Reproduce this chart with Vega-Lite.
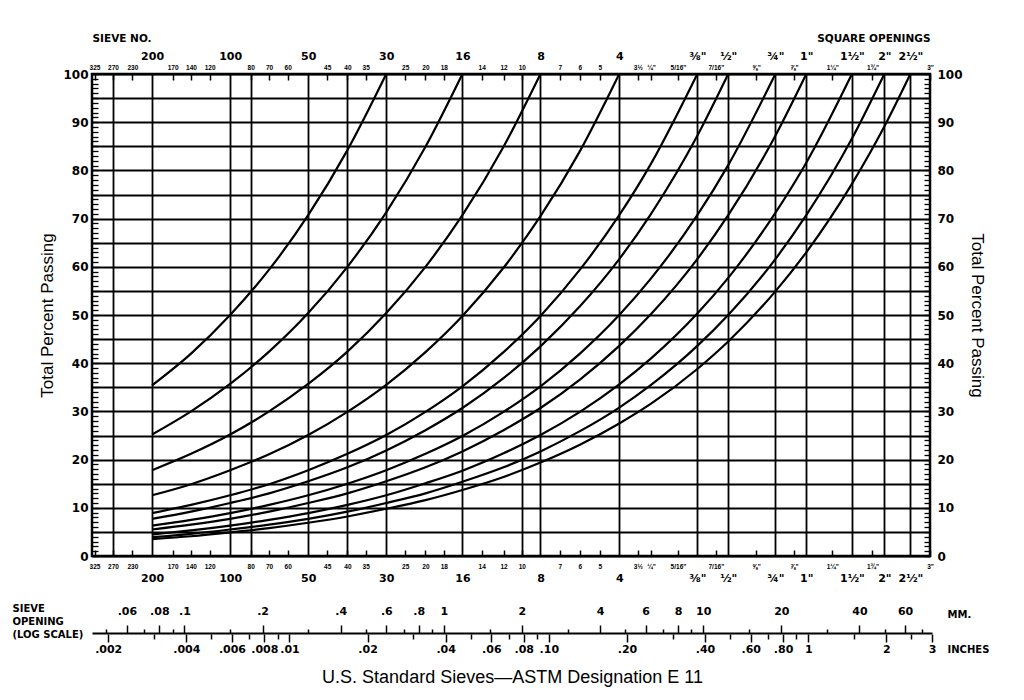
{
  "$schema": "https://vega.github.io/schema/vega-lite/v6.json",
  "padding": {"left": 12, "top": 31, "right": 5, "bottom": 5},
  "background": "white",
  "spacing": 18,
  "config": {
    "font": "Liberation Sans",
    "axis": {"labelColor": "black", "titleColor": "black", "tickColor": "black", "domainColor": "black", "gridColor": "black", "gridOpacity": 1, "labelFlush": false, "labelOverlap": false},
    "view": {"stroke": "black", "strokeWidth": 2.5}
  },
  "datasets": {
    "curves": [
      {"max": "No. 30", "d": 0.075, "p": 35.4}, {"max": "No. 30", "d": 0.106, "p": 42.0}, {"max": "No. 30", "d": 0.15, "p": 50.0}, {"max": "No. 30", "d": 0.212, "p": 59.4}, {"max": "No. 30", "d": 0.3, "p": 70.7}, {"max": "No. 30", "d": 0.425, "p": 84.2}, {"max": "No. 30", "d": 0.6, "p": 100},
      {"max": "No. 16", "d": 0.075, "p": 25.2}, {"max": "No. 16", "d": 0.106, "p": 30.0}, {"max": "No. 16", "d": 0.15, "p": 35.7}, {"max": "No. 16", "d": 0.212, "p": 42.4}, {"max": "No. 16", "d": 0.3, "p": 50.4}, {"max": "No. 16", "d": 0.425, "p": 60.0}, {"max": "No. 16", "d": 0.6, "p": 71.3}, {"max": "No. 16", "d": 0.85, "p": 84.9}, {"max": "No. 16", "d": 1.18, "p": 100},
      {"max": "No. 8", "d": 0.075, "p": 17.8}, {"max": "No. 8", "d": 0.106, "p": 21.2}, {"max": "No. 8", "d": 0.15, "p": 25.2}, {"max": "No. 8", "d": 0.212, "p": 30.0}, {"max": "No. 8", "d": 0.3, "p": 35.7}, {"max": "No. 8", "d": 0.425, "p": 42.4}, {"max": "No. 8", "d": 0.6, "p": 50.4}, {"max": "No. 8", "d": 0.85, "p": 60.0}, {"max": "No. 8", "d": 1.18, "p": 70.7}, {"max": "No. 8", "d": 1.7, "p": 84.9}, {"max": "No. 8", "d": 2.36, "p": 100},
      {"max": "No. 4", "d": 0.075, "p": 12.6}, {"max": "No. 4", "d": 0.106, "p": 14.9}, {"max": "No. 4", "d": 0.15, "p": 17.8}, {"max": "No. 4", "d": 0.212, "p": 21.1}, {"max": "No. 4", "d": 0.3, "p": 25.1}, {"max": "No. 4", "d": 0.425, "p": 29.9}, {"max": "No. 4", "d": 0.6, "p": 35.5}, {"max": "No. 4", "d": 0.85, "p": 42.3}, {"max": "No. 4", "d": 1.18, "p": 49.8}, {"max": "No. 4", "d": 1.7, "p": 59.8}, {"max": "No. 4", "d": 2.36, "p": 70.5}, {"max": "No. 4", "d": 3.35, "p": 84.0}, {"max": "No. 4", "d": 4.75, "p": 100},
      {"max": "3/8 in", "d": 0.075, "p": 8.9}, {"max": "3/8 in", "d": 0.106, "p": 10.6}, {"max": "3/8 in", "d": 0.15, "p": 12.6}, {"max": "3/8 in", "d": 0.212, "p": 14.9}, {"max": "3/8 in", "d": 0.3, "p": 17.8}, {"max": "3/8 in", "d": 0.425, "p": 21.2}, {"max": "3/8 in", "d": 0.6, "p": 25.1}, {"max": "3/8 in", "d": 0.85, "p": 29.9}, {"max": "3/8 in", "d": 1.18, "p": 35.2}, {"max": "3/8 in", "d": 1.7, "p": 42.3}, {"max": "3/8 in", "d": 2.36, "p": 49.8}, {"max": "3/8 in", "d": 3.35, "p": 59.4}, {"max": "3/8 in", "d": 4.75, "p": 70.7}, {"max": "3/8 in", "d": 6.3, "p": 81.4}, {"max": "3/8 in", "d": 9.5, "p": 100},
      {"max": "1/2 in", "d": 0.075, "p": 7.7}, {"max": "1/2 in", "d": 0.106, "p": 9.2}, {"max": "1/2 in", "d": 0.15, "p": 11.0}, {"max": "1/2 in", "d": 0.212, "p": 13.0}, {"max": "1/2 in", "d": 0.3, "p": 15.5}, {"max": "1/2 in", "d": 0.425, "p": 18.4}, {"max": "1/2 in", "d": 0.6, "p": 21.9}, {"max": "1/2 in", "d": 0.85, "p": 26.1}, {"max": "1/2 in", "d": 1.18, "p": 30.7}, {"max": "1/2 in", "d": 1.7, "p": 36.9}, {"max": "1/2 in", "d": 2.36, "p": 43.5}, {"max": "1/2 in", "d": 3.35, "p": 51.8}, {"max": "1/2 in", "d": 4.75, "p": 61.6}, {"max": "1/2 in", "d": 6.3, "p": 71.0}, {"max": "1/2 in", "d": 9.5, "p": 87.2}, {"max": "1/2 in", "d": 12.5, "p": 100},
      {"max": "3/4 in", "d": 0.075, "p": 6.3}, {"max": "3/4 in", "d": 0.106, "p": 7.5}, {"max": "3/4 in", "d": 0.15, "p": 8.9}, {"max": "3/4 in", "d": 0.212, "p": 10.6}, {"max": "3/4 in", "d": 0.3, "p": 12.6}, {"max": "3/4 in", "d": 0.425, "p": 15.0}, {"max": "3/4 in", "d": 0.6, "p": 17.8}, {"max": "3/4 in", "d": 0.85, "p": 21.2}, {"max": "3/4 in", "d": 1.18, "p": 24.9}, {"max": "3/4 in", "d": 1.7, "p": 29.9}, {"max": "3/4 in", "d": 2.36, "p": 35.2}, {"max": "3/4 in", "d": 3.35, "p": 42.0}, {"max": "3/4 in", "d": 4.75, "p": 50.0}, {"max": "3/4 in", "d": 6.3, "p": 57.6}, {"max": "3/4 in", "d": 9.5, "p": 70.7}, {"max": "3/4 in", "d": 12.5, "p": 81.1}, {"max": "3/4 in", "d": 19, "p": 100},
      {"max": "1 in", "d": 0.075, "p": 5.5}, {"max": "1 in", "d": 0.106, "p": 6.5}, {"max": "1 in", "d": 0.15, "p": 7.7}, {"max": "1 in", "d": 0.212, "p": 9.2}, {"max": "1 in", "d": 0.3, "p": 11.0}, {"max": "1 in", "d": 0.425, "p": 13.0}, {"max": "1 in", "d": 0.6, "p": 15.5}, {"max": "1 in", "d": 0.85, "p": 18.4}, {"max": "1 in", "d": 1.18, "p": 21.7}, {"max": "1 in", "d": 1.7, "p": 26.1}, {"max": "1 in", "d": 2.36, "p": 30.7}, {"max": "1 in", "d": 3.35, "p": 36.6}, {"max": "1 in", "d": 4.75, "p": 43.6}, {"max": "1 in", "d": 6.3, "p": 50.2}, {"max": "1 in", "d": 9.5, "p": 61.6}, {"max": "1 in", "d": 12.5, "p": 70.7}, {"max": "1 in", "d": 19, "p": 87.2}, {"max": "1 in", "d": 25, "p": 100},
      {"max": "1.5 in", "d": 0.075, "p": 4.5}, {"max": "1.5 in", "d": 0.106, "p": 5.3}, {"max": "1.5 in", "d": 0.15, "p": 6.3}, {"max": "1.5 in", "d": 0.212, "p": 7.5}, {"max": "1.5 in", "d": 0.3, "p": 8.9}, {"max": "1.5 in", "d": 0.425, "p": 10.6}, {"max": "1.5 in", "d": 0.6, "p": 12.6}, {"max": "1.5 in", "d": 0.85, "p": 15.1}, {"max": "1.5 in", "d": 1.18, "p": 17.7}, {"max": "1.5 in", "d": 1.7, "p": 21.3}, {"max": "1.5 in", "d": 2.36, "p": 25.1}, {"max": "1.5 in", "d": 3.35, "p": 29.9}, {"max": "1.5 in", "d": 4.75, "p": 35.6}, {"max": "1.5 in", "d": 6.3, "p": 41.0}, {"max": "1.5 in", "d": 9.5, "p": 50.3}, {"max": "1.5 in", "d": 12.5, "p": 57.7}, {"max": "1.5 in", "d": 19, "p": 71.2}, {"max": "1.5 in", "d": 25, "p": 81.6}, {"max": "1.5 in", "d": 37.5, "p": 100},
      {"max": "2 in", "d": 0.075, "p": 3.9}, {"max": "2 in", "d": 0.106, "p": 4.6}, {"max": "2 in", "d": 0.15, "p": 5.5}, {"max": "2 in", "d": 0.212, "p": 6.5}, {"max": "2 in", "d": 0.3, "p": 7.7}, {"max": "2 in", "d": 0.425, "p": 9.2}, {"max": "2 in", "d": 0.6, "p": 11.0}, {"max": "2 in", "d": 0.85, "p": 13.0}, {"max": "2 in", "d": 1.18, "p": 15.4}, {"max": "2 in", "d": 1.7, "p": 18.4}, {"max": "2 in", "d": 2.36, "p": 21.7}, {"max": "2 in", "d": 3.35, "p": 25.9}, {"max": "2 in", "d": 4.75, "p": 30.8}, {"max": "2 in", "d": 6.3, "p": 35.5}, {"max": "2 in", "d": 9.5, "p": 43.6}, {"max": "2 in", "d": 12.5, "p": 50.0}, {"max": "2 in", "d": 19, "p": 61.6}, {"max": "2 in", "d": 25, "p": 70.7}, {"max": "2 in", "d": 37.5, "p": 86.6}, {"max": "2 in", "d": 50, "p": 100},
      {"max": "2.5 in", "d": 0.075, "p": 3.5}, {"max": "2.5 in", "d": 0.106, "p": 4.1}, {"max": "2.5 in", "d": 0.15, "p": 4.9}, {"max": "2.5 in", "d": 0.212, "p": 5.8}, {"max": "2.5 in", "d": 0.3, "p": 6.9}, {"max": "2.5 in", "d": 0.425, "p": 8.2}, {"max": "2.5 in", "d": 0.6, "p": 9.8}, {"max": "2.5 in", "d": 0.85, "p": 11.6}, {"max": "2.5 in", "d": 1.18, "p": 13.7}, {"max": "2.5 in", "d": 1.7, "p": 16.4}, {"max": "2.5 in", "d": 2.36, "p": 19.4}, {"max": "2.5 in", "d": 3.35, "p": 23.1}, {"max": "2.5 in", "d": 4.75, "p": 27.5}, {"max": "2.5 in", "d": 6.3, "p": 31.6}, {"max": "2.5 in", "d": 9.5, "p": 38.8}, {"max": "2.5 in", "d": 12.5, "p": 44.5}, {"max": "2.5 in", "d": 19, "p": 54.9}, {"max": "2.5 in", "d": 25, "p": 63.0}, {"max": "2.5 in", "d": 37.5, "p": 77.2}, {"max": "2.5 in", "d": 50, "p": 89.1}, {"max": "2.5 in", "d": 63, "p": 100}
    ]
  },
  "vconcat": [
    {
      "width": 838,
      "height": 482,
      "data": {"name": "curves"},
      "layer": [
        {
          "mark": {"type": "line", "color": "black", "strokeWidth": 2.2, "interpolate": "monotone"},
          "encoding": {
            "x": {"field": "d", "type": "quantitative", "scale": {"type": "log", "domain": [0.044, 75], "nice": false},
              "axis": {"orient": "bottom", "title": null,
                "values": [0.053, 0.075, 0.15, 0.18, 0.3, 0.425, 0.6, 1.18, 2.0, 2.36, 4.75, 9.5, 12.5, 19, 25, 37.5, 50, 63],
                "labelExpr": "['','200','100','','50','','30','16','','8','4','⅜\"','½\"','¾\"','1\"','1½\"','2\"','2½\"'][indexof([53,75,150,180,300,425,600,1180,2000,2360,4750,9500,12500,19000,25000,37500,50000,63000], round(datum.value*1000))]",
                "grid": true, "gridWidth": 1.8, "ticks": false, "domain": false,
                "labelPadding": 16, "labelFont": "DejaVu Sans", "labelFontSize": 11, "labelFontWeight": "bold"}},
            "y": {"field": "p", "type": "quantitative", "scale": {"domain": [0, 100], "nice": false},
              "axis": {"orient": "left", "values": [0,5,10,15,20,25,30,35,40,45,50,55,60,65,70,75,80,85,90,95,100],
                "labelExpr": "datum.value % 10 === 0 ? '' + datum.value : ''",
                "grid": true, "gridWidth": 1.8, "ticks": false, "domain": false, "labelPadding": 4,
                "labelFont": "DejaVu Sans", "labelFontSize": 12, "labelFontWeight": "bold",
                "title": "Total Percent Passing", "titleFontSize": 17, "titleFontWeight": "normal", "titlePadding": 6}},
            "detail": {"field": "max", "type": "nominal"}
          }
        },
        {
          "mark": {"type": "point", "opacity": 0},
          "encoding": {
            "x": {"field": "d", "type": "quantitative",
              "axis": {"orient": "bottom", "title": null,
                "values": [0.045,0.053,0.063,0.09,0.106,0.125,0.18,0.212,0.25,0.355,0.425,0.5,0.71,0.85,1.0,1.4,1.7,2.0,2.8,3.35,4.0,5.6,6.3,8.0,11.2,16,22.4,31.5,45,75],
                "labelExpr": "['325','270','230','170','140','120','80','70','60','45','40','35','25','20','18','14','12','10','7','6','5','3½','¼\"','5/16\"','7/16\"','⅝\"','⅞\"','1¼\"','1¾\"','3\"'][indexof([45,53,63,90,106,125,180,212,250,355,425,500,710,850,1000,1400,1700,2000,2800,3350,4000,5600,6300,8000,11200,16000,22400,31500,45000,75000], round(datum.value*1000))]",
                "grid": false, "ticks": true, "tickSize": -6, "tickWidth": 1.5, "domain": false,
                "labelPadding": 13, "labelFontSize": 6.5, "labelFontWeight": "bold"}},
            "y": {"field": "p", "type": "quantitative",
              "axis": {"orient": "left", "title": null, "labels": false, "grid": false, "domain": false, "tickSize": -6, "tickWidth": 1.3,
                "values": [0,1,2,3,4,5,6,7,8,9,10,11,12,13,14,15,16,17,18,19,20,21,22,23,24,25,26,27,28,29,30,31,32,33,34,35,36,37,38,39,40,41,42,43,44,45,46,47,48,49,50,51,52,53,54,55,56,57,58,59,60,61,62,63,64,65,66,67,68,69,70,71,72,73,74,75,76,77,78,79,80,81,82,83,84,85,86,87,88,89,90,91,92,93,94,95,96,97,98,99,100]}}
          }
        },
        {
          "mark": {"type": "point", "opacity": 0},
          "encoding": {
            "x": {"field": "d", "type": "quantitative",
              "axis": {"orient": "top", "title": "SIEVE NO.", "titleAnchor": "start", "titleAlign": "left", "titleFont": "DejaVu Sans", "titleFontSize": 10.5, "titleFontWeight": "bold", "titlePadding": 7,
                "values": [0.075, 0.15, 0.3, 0.6, 1.18, 2.36, 4.75, 9.5, 12.5, 19, 25, 37.5, 50, 63],
                "labelExpr": "['','200','100','','50','','30','16','','8','4','⅜\"','½\"','¾\"','1\"','1½\"','2\"','2½\"'][indexof([53,75,150,180,300,425,600,1180,2000,2360,4750,9500,12500,19000,25000,37500,50000,63000], round(datum.value*1000))]",
                "grid": false, "ticks": false, "domain": false,
                "labelPadding": 13, "labelFont": "DejaVu Sans", "labelFontSize": 11, "labelFontWeight": "bold"}},
            "y": {"field": "p", "type": "quantitative",
              "axis": {"orient": "right", "values": [0,10,20,30,40,50,60,70,80,90,100],
                "grid": false, "ticks": false, "domain": false, "labelPadding": 7,
                "labelFont": "DejaVu Sans", "labelFontSize": 12, "labelFontWeight": "bold",
                "title": "Total Percent Passing", "titleFontSize": 17, "titleFontWeight": "normal", "titlePadding": 5}}
          }
        },
        {
          "mark": {"type": "point", "opacity": 0},
          "encoding": {
            "x": {"field": "d", "type": "quantitative",
              "axis": {"orient": "top", "title": "SQUARE OPENINGS", "titleAnchor": "end", "titleAlign": "right", "titleFont": "DejaVu Sans", "titleFontSize": 10.5, "titleFontWeight": "bold", "titlePadding": 21,
                "values": [0.045,0.053,0.063,0.09,0.106,0.125,0.18,0.212,0.25,0.355,0.425,0.5,0.71,0.85,1.0,1.4,1.7,2.0,2.8,3.35,4.0,5.6,6.3,8.0,11.2,16,22.4,31.5,45,75],
                "labelExpr": "['325','270','230','170','140','120','80','70','60','45','40','35','25','20','18','14','12','10','7','6','5','3½','¼\"','5/16\"','7/16\"','⅝\"','⅞\"','1¼\"','1¾\"','3\"'][indexof([45,53,63,90,106,125,180,212,250,355,425,500,710,850,1000,1400,1700,2000,2800,3350,4000,5600,6300,8000,11200,16000,22400,31500,45000,75000], round(datum.value*1000))]",
                "grid": false, "ticks": true, "tickSize": -6, "tickWidth": 1.5, "domain": false,
                "labelPadding": 10, "labelFontSize": 6.5, "labelFontWeight": "bold"}},
            "y": {"field": "p", "type": "quantitative",
              "axis": {"orient": "right", "title": null, "labels": false, "grid": false, "domain": false, "tickSize": -6, "tickWidth": 1.3,
                "values": [0,1,2,3,4,5,6,7,8,9,10,11,12,13,14,15,16,17,18,19,20,21,22,23,24,25,26,27,28,29,30,31,32,33,34,35,36,37,38,39,40,41,42,43,44,45,46,47,48,49,50,51,52,53,54,55,56,57,58,59,60,61,62,63,64,65,66,67,68,69,70,71,72,73,74,75,76,77,78,79,80,81,82,83,84,85,86,87,88,89,90,91,92,93,94,95,96,97,98,99,100]}}
          }
        }
      ],
      "resolve": {"axis": {"x": "independent", "y": "independent"}}
    },
    {
      "width": 840,
      "height": 1,
      "view": {"stroke": null},
      "data": {"name": "curves"},
      "layer": [
        {
          "mark": {"type": "point", "opacity": 0},
          "encoding": {
            "x": {"field": "d", "type": "quantitative", "scale": {"type": "log", "domain": [0.044, 76.2], "nice": false},
              "axis": {"orient": "top", "title": null,
                "values": [0.06,0.08,0.1,0.2,0.4,0.6,0.8,1,2,4,6,8,10,20,40,60],
                "labelExpr": "datum.value < 1 ? slice(format(datum.value,'~g'),1) : format(datum.value,'~g')",
                "tickSize": 8, "tickWidth": 1.5, "domain": true, "domainWidth": 2, "grid": false,
                "labelPadding": 9, "labelFont": "DejaVu Sans", "labelFontSize": 11, "labelFontWeight": "bold"}},
            "y": {"datum": 0, "type": "quantitative", "scale": {"domain": [0, 1]},
              "axis": {"orient": "left", "title": ["SIEVE", "OPENING", "(LOG SCALE)"], "labels": false, "ticks": false, "domain": false, "grid": false,
                "titleAngle": 0, "titleAlign": "left", "titleBaseline": "middle", "titleX": -80, "titleY": -25, "titleLineHeight": 13,
                "titleFont": "DejaVu Sans", "titleFontSize": 10, "titleFontWeight": "bold"}}
          }
        },
        {
          "mark": {"type": "point", "opacity": 0},
          "encoding": {
            "x": {"field": "d", "type": "quantitative",
              "axis": {"orient": "top", "title": null, "labels": false, "grid": false, "domain": false,
                "values": [0.05,0.07,0.09,0.15,0.3,0.5,0.7,0.9,1.5,3,5,7,9,15,30,50,70],
                "tickSize": 4, "tickWidth": 1.5}},
            "y": {"datum": 0, "type": "quantitative",
              "axis": {"orient": "right", "title": "MM.", "labels": false, "ticks": false, "domain": false, "grid": false,
                "titleAngle": 0, "titleAlign": "left", "titleBaseline": "middle", "titleX": 15, "titleY": -19,
                "titleFont": "DejaVu Sans", "titleFontSize": 10, "titleFontWeight": "bold"}}
          }
        },
        {
          "mark": {"type": "point", "opacity": 0},
          "encoding": {
            "x": {"field": "d", "type": "quantitative",
              "axis": {"orient": "bottom", "title": "U.S. Standard Sieves—ASTM Designation E 11", "titleFontSize": 18, "titleFontWeight": "normal", "titlePadding": 14,
                "values": [0.0508,0.1016,0.1524,0.2032,0.254,0.508,1.016,1.524,2.032,2.54,5.08,10.16,15.24,20.32,25.4,50.8,76.2],
                "labelExpr": "datum.value/25.4 < 0.095 ? slice(format(datum.value/25.4,'~g'),1) : (datum.value/25.4 < 0.95 ? slice(format(datum.value/25.4,'.2f'),1) : format(datum.value/25.4,'.0f'))",
                "tickSize": 8, "tickWidth": 1.5, "domain": false, "grid": false,
                "labelPadding": 1, "labelFont": "DejaVu Sans", "labelFontSize": 11, "labelFontWeight": "bold"}},
            "y": {"datum": 0, "type": "quantitative",
              "axis": {"orient": "right", "title": "INCHES", "labels": false, "ticks": false, "domain": false, "grid": false,
                "titleAngle": 0, "titleAlign": "left", "titleBaseline": "middle", "titleX": 15, "titleY": 16,
                "titleFont": "DejaVu Sans", "titleFontSize": 10, "titleFontWeight": "bold"}}
          }
        },
        {
          "mark": {"type": "point", "opacity": 0},
          "encoding": {
            "x": {"field": "d", "type": "quantitative",
              "axis": {"orient": "bottom", "title": null, "labels": false, "grid": false, "domain": false,
                "values": [0.0762,0.127,0.1778,0.2286,0.762,1.27,1.778,2.286,7.62,12.7,17.78,22.86,38.1,63.5],
                "tickSize": 5, "tickWidth": 1.5}},
            "y": {"datum": 0, "type": "quantitative", "axis": null}
          }
        }
      ],
      "resolve": {"axis": {"x": "independent", "y": "independent"}}
    }
  ]
}
